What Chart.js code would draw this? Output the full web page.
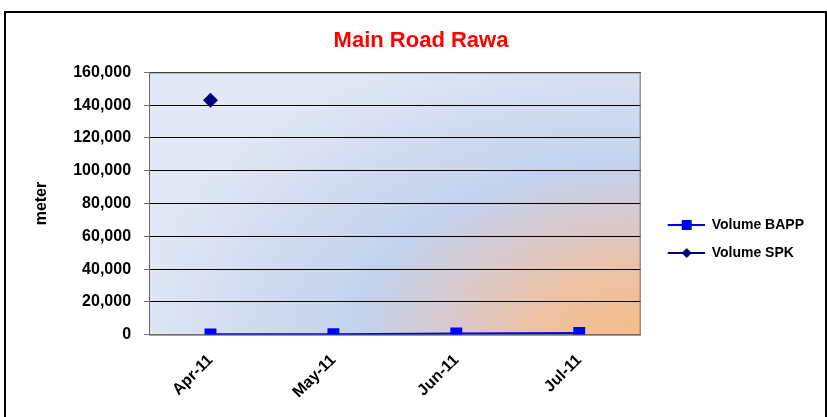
<!DOCTYPE html>
<html>
<head>
<meta charset="utf-8">
<script src="https://cdn.jsdelivr.net/npm/chart.js@4"></script>
<style>
  html, body { margin: 0; padding: 0; background: #fff; }
</style>
</head>
<body>
<canvas id="roadChart" width="827" height="417"></canvas>
<script>
// Months on the x axis
const months = ['Apr-11', 'May-11', 'Jun-11', 'Jul-11'];
// Volume BAPP (meter)
const volumeBAPP = [200, 300, 700, 1000];
// Volume SPK (meter), only April has a value
const volumeSPK = [143000, null, null, null];
// Y axis range
const yMin = 0, yMax = 160000, yStep = 20000;

const FONT = 'Liberation Sans, Arial, sans-serif';

// legend icon: short line with the marker in the middle (left part kept blank as spacing)
function legendIcon(color, shape) {
  const c = document.createElement('canvas');
  c.width = 50; c.height = 12;
  const g = c.getContext('2d');
  g.strokeStyle = color;
  g.lineWidth = 2;
  g.beginPath(); g.moveTo(13, 6); g.lineTo(50, 6); g.stroke();
  g.fillStyle = color;
  if (shape === 'rect') {
    g.fillRect(27, 1, 10, 10);
  } else {
    g.beginPath();
    g.moveTo(32, 1); g.lineTo(37, 6); g.lineTo(32, 11); g.lineTo(27, 6);
    g.closePath(); g.fill();
  }
  return c;
}

// plot background (orange corner glow over blue) + borders
const backdrop = {
  id: 'backdrop',
  beforeDraw(chart) {
    const { ctx, chartArea: a } = chart;
    ctx.save();
    ctx.beginPath();
    ctx.rect(a.left, a.top, a.right - a.left, a.bottom - a.top);
    ctx.clip();
    ctx.translate(a.right, a.bottom);
    ctx.scale(1, 0.6);
    const r = 520;
    const rad = ctx.createRadialGradient(0, 0, 0, 0, 0, r);
    rad.addColorStop(0, '#f7bc88');
    rad.addColorStop(0.2, '#edc1a2');
    rad.addColorStop(0.37, '#d8c9cc');
    rad.addColorStop(0.54, '#c3d2ed');
    rad.addColorStop(1, '#e2e8f5');
    ctx.fillStyle = rad;
    ctx.fillRect(-1000, -1000, 2000, 2000);
    ctx.restore();
  },
  afterDraw(chart) {
    const { ctx, chartArea: a } = chart;
    ctx.save();
    ctx.strokeStyle = '#707070';
    ctx.lineWidth = 1;
    ctx.strokeRect(a.left + 0.5, a.top + 0.5, a.right - a.left - 1, a.bottom - a.top);
    ctx.strokeStyle = '#000';
    ctx.lineWidth = 2;
    ctx.strokeRect(5, 12, 821, 410);
    ctx.restore();
  }
};

const ctx = document.getElementById('roadChart').getContext('2d');
new Chart(ctx, {
  type: 'line',
  data: {
    labels: months,
    datasets: [
      {
        label: 'Volume BAPP',
        data: volumeBAPP,
        borderColor: '#0000ff',
        backgroundColor: '#0000ff',
        borderWidth: 2,
        pointStyle: 'rect',
        pointRadius: 7,
        pointHoverRadius: 7,
        tension: 0,
      },
      {
        label: 'Volume SPK',
        data: volumeSPK,
        borderColor: '#000080',
        backgroundColor: '#000080',
        borderWidth: 2,
        pointStyle: 'rectRot',
        pointRadius: 6,
        pointHoverRadius: 6,
        tension: 0,
      },
    ],
  },
  options: {
    responsive: false,
    animation: false,
    layout: { padding: { left: 28, right: 13, top: 10, bottom: -1 } },
    plugins: {
      title: {
        display: true,
        text: 'Main Road Rawa',
        color: '#ff0000',
        font: { family: FONT, size: 22, weight: 'bold' },
        padding: { top: 18, bottom: 18 },
      },
      legend: {
        position: 'right',
        title: {
          display: true,
          text: ' ',
          font: { size: 10 },
          padding: { top: 0, bottom: 38 },
        },
        labels: {
          usePointStyle: true,
          pointStyleWidth: 50,
          color: '#000',
          font: { family: FONT, size: 14, weight: 'bold' },
          padding: 14,
          generateLabels(chart) {
            const base = Chart.defaults.plugins.legend.labels.generateLabels(chart);
            return base.map((l, i) => {
              const ds = chart.data.datasets[i];
              l.pointStyle = legendIcon(ds.borderColor, ds.pointStyle);
              return l;
            });
          },
        },
      },
      tooltip: { enabled: false },
    },
    scales: {
      x: {
        offset: true,
        grid: { display: false, drawTicks: false },
        border: { color: '#707070' },
        ticks: {
          color: '#000',
          font: { family: FONT, size: 16, weight: 'bold' },
          maxRotation: 45,
          minRotation: 45,
          padding: 16,
        },
      },
      y: {
        min: yMin,
        max: yMax,
        grid: { color: '#000', lineWidth: 1, tickLength: 5, tickColor: '#707070' },
        border: { color: '#707070' },
        ticks: {
          stepSize: yStep,
          color: '#000',
          padding: 13,
          font: { family: FONT, size: 16, weight: 'bold' },
          callback: (v) => v.toLocaleString('en-US'),
        },
        title: {
          display: true,
          text: 'meter',
          color: '#000',
          font: { family: FONT, size: 16, weight: 'bold' },
          padding: { top: 4, bottom: 9 },
        },
      },
    },
  },
  plugins: [backdrop],
});
</script>
</body>
</html>
